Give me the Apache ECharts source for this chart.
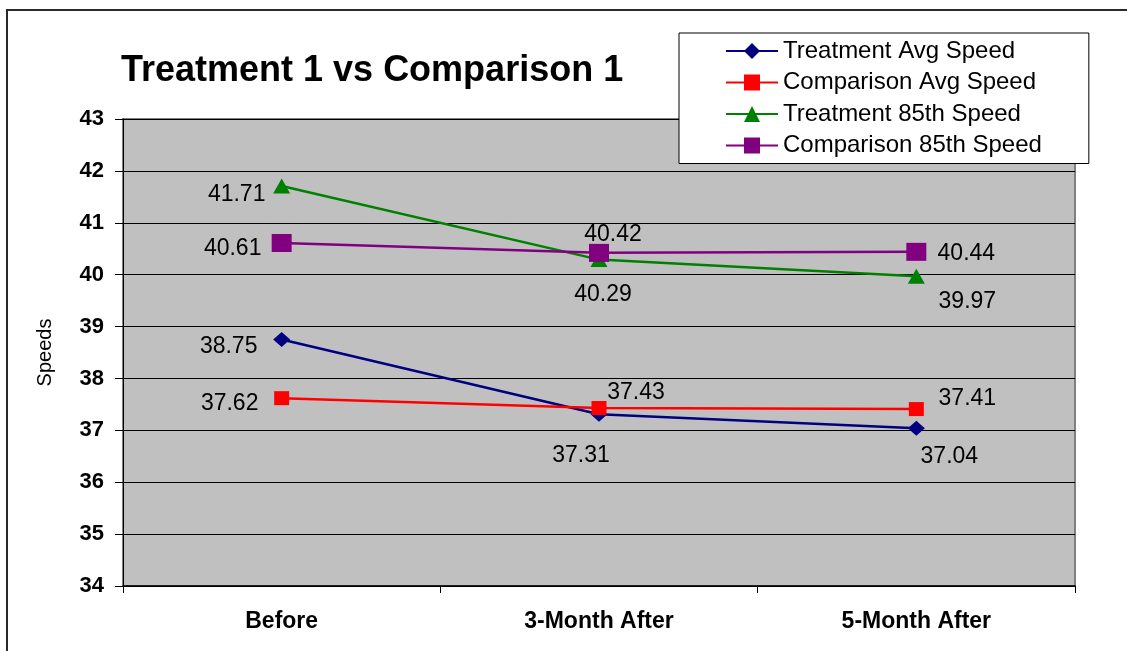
<!DOCTYPE html>
<html>
<head>
<meta charset="utf-8">
<script src="https://cdn.jsdelivr.net/npm/echarts@6/dist/echarts.min.js"></script>
<style>
  html, body { margin: 0; padding: 0; background: #ffffff; }
  #chart { width: 1127px; height: 651px; }
</style>
</head>
<body>
<div id="chart"></div>
<script>
// ---- data ----
var categories = ['Before', '3-Month After', '5-Month After'];
var treatmentAvg = [38.75, 37.31, 37.04];
var comparisonAvg = [37.62, 37.43, 37.41];
var treatment85 = [41.71, 40.29, 39.97];
var comparison85 = [40.61, 40.42, 40.44];
var seriesNames = ['Treatment Avg Speed', 'Comparison Avg Speed', 'Treatment 85th Speed', 'Comparison 85th Speed'];
var yMin = 34, yMax = 43, yStep = 1;

// ---- styles (label placement relative to each point) ----
var FONT = 'Liberation Sans, Arial, Helvetica, sans-serif';
var labelOffsets = {
  ta: [[-53, 7], [-18, 41], [33, 28]],
  ca: [[-52, 5], [37, -15], [51, -10]],
  t85: [[-45, 9], [4, 35], [51, 25]],
  c85: [[-49, 6], [14, -18], [50, 2]]
};

function buildData(values, offsets) {
  return values.map(function (v, i) {
    return { value: v, label: { offset: offsets[i] } };
  });
}

function lineSeries(name, values, offsets, color, symbol, size) {
  return {
    name: name,
    type: 'line',
    data: buildData(values, offsets),
    symbol: symbol,
    symbolSize: size,
    showAllSymbol: true,
    lineStyle: { color: color, width: 2.5 },
    itemStyle: { color: color },
    label: {
      show: true,
      position: 'inside',
      color: '#000',
      fontFamily: FONT,
      fontSize: 23,
      formatter: function (p) { return p.value.toFixed(2); }
    },
    emphasis: { disabled: true },
    animation: false
  };
}

var chart = echarts.init(document.getElementById('chart'));
chart.setOption({
  backgroundColor: '#ffffff',
  animation: false,
  graphic: [{
    type: 'rect',
    z: -10,
    shape: { x: 7, y: 10, width: 1300, height: 800 },
    style: { fill: 'none', stroke: '#2a2a2a', lineWidth: 2 }
  }],
  title: {
    text: 'Treatment 1 vs Comparison 1',
    left: 116,
    top: 48,
    textStyle: { fontFamily: FONT, fontSize: 36, fontWeight: 'bold', color: '#000' }
  },
  legend: {
    orient: 'vertical',
    left: 679,
    top: 33,
    padding: [6, 47, 6, 46],
    itemWidth: 52,
    itemHeight: 20,
    itemGap: 7.5,
    backgroundColor: '#ffffff',
    borderColor: '#000',
    borderWidth: 1,
    borderRadius: 0,
    textStyle: { fontFamily: FONT, fontSize: 24, color: '#000', lineHeight: 21 },
    data: seriesNames
  },
  grid: {
    left: 123,
    right: 52,
    top: 119,
    bottom: 65,
    show: true,
    backgroundColor: '#c0c0c0',
    borderColor: '#808080',
    borderWidth: 2
  },
  xAxis: {
    type: 'category',
    data: categories,
    boundaryGap: true,
    axisLine: { lineStyle: { color: '#000', width: 1.5 } },
    axisTick: { show: true, length: 7, lineStyle: { color: '#000' } },
    axisLabel: {
      margin: 24,
      color: '#000',
      fontFamily: FONT,
      fontSize: 23,
      fontWeight: 'bold'
    },
    splitLine: { show: false }
  },
  yAxis: {
    type: 'value',
    min: yMin,
    max: yMax,
    interval: yStep,
    name: 'Speeds',
    nameLocation: 'middle',
    nameRotate: 90,
    nameGap: 68,
    nameTextStyle: { fontFamily: FONT, fontSize: 20, color: '#000' },
    axisLine: { show: true, lineStyle: { color: '#000', width: 1 } },
    axisTick: { show: true, length: 8, lineStyle: { color: '#000' } },
    axisLabel: {
      margin: 19,
      color: '#000',
      fontFamily: FONT,
      fontSize: 22,
      fontWeight: 'bold'
    },
    splitLine: { show: true, lineStyle: { color: '#000', width: 1 } }
  },
  series: [
    lineSeries(seriesNames[0], treatmentAvg, labelOffsets.ta, '#000080', 'diamond', [17, 15]),
    lineSeries(seriesNames[1], comparisonAvg, labelOffsets.ca, '#ff0000', 'rect', [15, 14]),
    lineSeries(seriesNames[2], treatment85, labelOffsets.t85, '#008000', 'triangle', [17, 15]),
    lineSeries(seriesNames[3], comparison85, labelOffsets.c85, '#800080', 'rect', [20, 18])
  ]
});
</script>
</body>
</html>
